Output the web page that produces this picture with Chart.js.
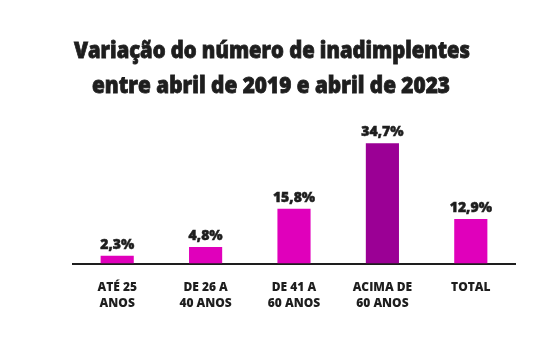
<!DOCTYPE html>
<html>
<head>
<meta charset="utf-8">
<script src="https://cdn.jsdelivr.net/npm/chart.js@4"></script>
<style>
  html, body { margin: 0; padding: 0; background: #ffffff; }
  #wrap { width: 552px; height: 351px; }
</style>
</head>
<body>
<div id="wrap"><canvas id="grafico" width="552" height="351"></canvas></div>
<script>
// dados do gráfico
const faixas = [["ATÉ 25", "ANOS"], ["DE 26 A", "40 ANOS"], ["DE 41 A", "60 ANOS"], ["ACIMA DE", "60 ANOS"], ["TOTAL"]];
const variacao = [2.3, 4.8, 15.8, 34.7, 12.9];
const cores = ["#e000bb", "#e000bb", "#e000bb", "#9b0095", "#e000bb"];
const titulo = ["Variação do número de inadimplentes", "entre abril de 2019 e abril de 2023"];

const FONTE = "'Open Sans', 'DejaVu Sans', sans-serif";

function formataPct(v) {
    return v.toFixed(1).replace(".", ",") + "%";
}

// rótulos de valor em cima de cada barra
const rotulosBarras = {
    id: "rotulosBarras",
    afterDatasetsDraw(chart) {
        const ctx = chart.ctx;
        const meta = chart.getDatasetMeta(0);
        ctx.save();
        ctx.fillStyle = "#1e1e1e";
        ctx.strokeStyle = "#1e1e1e";
        ctx.lineWidth = 0.5;
        ctx.font = "800 14px " + FONTE;
        ctx.textAlign = "center";
        ctx.textBaseline = "middle";
        meta.data.forEach((bar, i) => {
            ctx.fillText(formataPct(variacao[i]), bar.x, bar.y - 11);
            ctx.strokeText(formataPct(variacao[i]), bar.x, bar.y - 11);
        });
        ctx.restore();
    }
};

// título em duas linhas (um traço fino deixa a fonte mais pesada)
const tituloPlugin = {
    id: "tituloPlugin",
    afterDraw(chart) {
        const ctx = chart.ctx;
        ctx.save();
        ctx.fillStyle = "#1e1e1e";
        ctx.strokeStyle = "#1e1e1e";
        ctx.lineWidth = 0.8;
        ctx.font = "800 22px " + FONTE;
        ctx.textAlign = "center";
        ctx.textBaseline = "alphabetic";
        ctx.fillText(titulo[0], 272, 58, 396);
        ctx.strokeText(titulo[0], 272, 58, 396);
        ctx.fillText(titulo[1], 271, 93, 358);
        ctx.strokeText(titulo[1], 271, 93, 358);
        ctx.restore();
    }
};

new Chart(document.getElementById("grafico"), {
    type: "bar",
    data: {
        labels: faixas,
        datasets: [{
            data: variacao,
            backgroundColor: cores,
            borderWidth: 0,
            barPercentage: 0.375,
            categoryPercentage: 1
        }]
    },
    options: {
        responsive: false,
        animation: false,
        devicePixelRatio: 1,
        layout: { padding: { left: 73, right: 37, top: 125, bottom: 23 } },
        plugins: {
            legend: { display: false },
            title: { display: false },
            tooltip: { enabled: false }
        },
        scales: {
            x: {
                grid: { display: false, drawTicks: false },
                border: { display: true, color: "#1e1e1e", width: 2 },
                ticks: {
                    color: "#1e1e1e",
                    font: { family: FONTE, size: 12, weight: "800", lineHeight: 1.35 },
                    padding: 16,
                    maxRotation: 0,
                    autoSkip: false
                }
            },
            y: {
                display: false,
                min: 0,
                max: 40
            }
        }
    },
    plugins: [rotulosBarras, tituloPlugin]
});
</script>
</body>
</html>
